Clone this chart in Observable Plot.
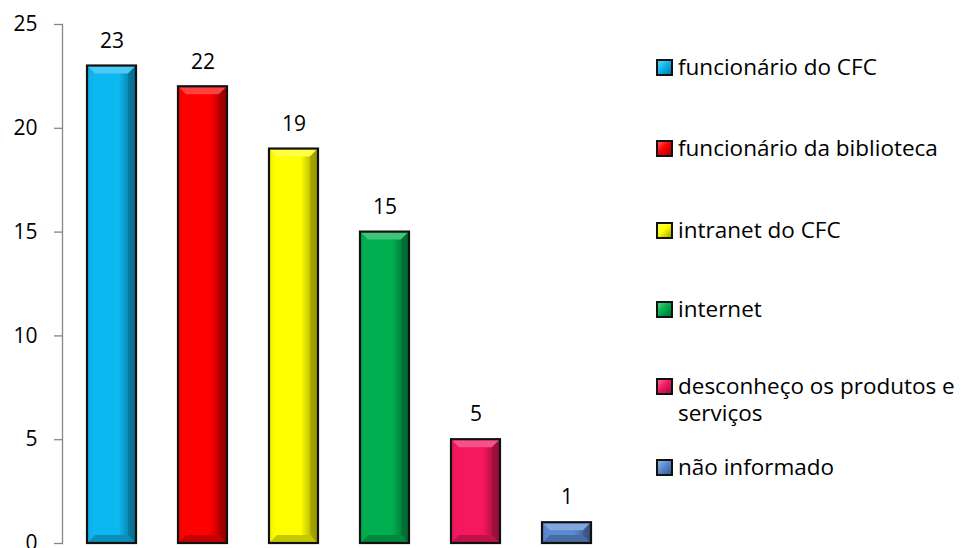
<!DOCTYPE html>
<html>
<head>
<meta charset="utf-8">
<script src="https://cdn.jsdelivr.net/npm/d3@7"></script>
<script src="https://cdn.jsdelivr.net/npm/@observablehq/plot@0.6"></script>
<style>
  html, body { margin: 0; padding: 0; background: #fff; }
  #wrap { position: relative; width: 964px; height: 548px; overflow: hidden; font-family: "Open Sans", "Noto Sans", sans-serif; }
  #chart svg { display: block; }
  #legend { position: absolute; left: 656px; top: 0; width: 308px; height: 548px; }
  .item { position: absolute; left: 0; font-size: 22.5px; line-height: 27px; color: #000; padding-left: 22px; white-space: nowrap; }
  .sw { position: absolute; left: 0; top: 6px; width: 13px; height: 13px; border: 2px solid #111; box-sizing: content-box; }
</style>
</head>
<body>
<div id="wrap">
  <div id="chart"></div>
  <div id="legend"></div>
</div>
<script>
// ---- data ----
const categories = [
  "funcionário do CFC",
  "funcionário da biblioteca",
  "intranet do CFC",
  "internet",
  "desconheço os produtos e serviços",
  "não informado"
];
const values = [23, 22, 19, 15, 5, 1];
const colors = ["#0DB7F0", "#FF0000", "#FFFF00", "#00B050", "#F5175F", "#5A8AD0"];
const yTicks = [0, 5, 10, 15, 20, 25];
const legendLines = [
  ["funcionário do CFC"],
  ["funcionário da biblioteca"],
  ["intranet do CFC"],
  ["internet"],
  ["desconheço os produtos e", "serviços"],
  ["não informado"]
];

const data = categories.map((c, i) => ({category: c, value: values[i], color: colors[i], idx: i}));

function shade(c, k) {
  return k >= 0 ? d3.interpolateRgb(c, "#ffffff")(k) : d3.interpolateRgb(c, "#000000")(-k);
}

// gradient defs mark
const defs = () => {
  const g = d3.create("svg:defs");
  colors.forEach((c, i) => {
    const lg = g.append("linearGradient").attr("id", "g" + i).attr("x1", 0).attr("x2", 1).attr("y1", 0).attr("y2", 0);
    lg.append("stop").attr("offset", 0).attr("stop-color", shade(c, -0.05));
    lg.append("stop").attr("offset", 0.15).attr("stop-color", c);
    lg.append("stop").attr("offset", 0.65).attr("stop-color", c);
    lg.append("stop").attr("offset", 1).attr("stop-color", shade(c, -0.45));
  });
  return g.node();
};

const bevel = 8;
function bevelRender(index, scales, values, dimensions, context, next) {
  const g = next(index, scales, values, dimensions, context);
  const bw = scales.x && scales.x.bandwidth ? scales.x.bandwidth() : 49;
  const sel = d3.select(g);
  for (const i of index) {
    const x = scales.x(data[i].category);
    const yTop = Math.min(scales.y(data[i].value), scales.y(0));
    const yBot = Math.max(scales.y(data[i].value), scales.y(0));
    const w = bw, h = yBot - yTop;
    const b = Math.min(bevel, h / 2);
    const c = data[i].color;
    sel.append("polygon")
      .attr("points", [[x, yTop], [x + w, yTop], [x + w - b, yTop + b], [x + b, yTop + b]].join(" "))
      .attr("fill", shade(c, 0.25));
    sel.append("polygon")
      .attr("points", [[x, yBot], [x + w, yBot], [x + w - b, yBot - b], [x + b, yBot - b]].join(" "))
      .attr("fill", shade(c, -0.22));
    sel.append("polygon")
      .attr("points", [[x + w, yTop], [x + w, yBot], [x + w - b, yBot - b], [x + w - b, yTop + b]].join(" "))
      .attr("fill", shade(c, -0.4)).attr("fill-opacity", 0.55);
    sel.append("rect")
      .attr("x", x).attr("y", yTop).attr("width", w).attr("height", h)
      .attr("fill", "none").attr("stroke", "#111").attr("stroke-width", 2.2);
  }
  return g;
}

const chart = Plot.plot({
  width: 964,
  height: 548,
  marginLeft: 62,
  marginRight: 349,
  marginTop: 24,
  marginBottom: 5,
  style: {fontFamily: '"Open Sans", "Noto Sans", sans-serif', background: "#fff", overflow: "visible"},
  x: {domain: categories, paddingInner: 0.467, paddingOuter: 0.239, axis: null},
  y: {domain: [0, 25], axis: null},
  marks: [
    defs,
    Plot.frame({anchor: "left", stroke: "#868686", strokeWidth: 1.3}),
    Plot.axisY({ticks: yTicks, label: null, tickSize: 8, tickPadding: 17, stroke: "#868686", strokeWidth: 1.3, fill: "#000", fontSize: 21, tickFormat: d => String(d)}),
    Plot.barY(data, {x: "category", y: "value", fill: d => "url(#g" + d.idx + ")", render: bevelRender}),
    Plot.text(data, {x: "category", y: "value", text: d => String(d.value), dy: -25, fontSize: 21, fill: "#000"})
  ]
});
document.getElementById("chart").appendChild(chart);

// legend (HTML)
const legendTops = [53, 134, 216, 295, 372, 453];
const legend = d3.select("#legend");
legendLines.forEach((lines, i) => {
  const it = legend.append("div").attr("class", "item").style("top", legendTops[i] + "px");
  const c = colors[i];
  it.append("div").attr("class", "sw")
    .style("background", `linear-gradient(135deg, ${shade(c, 0.35)} 0%, ${c} 45%, ${shade(c, -0.35)} 100%)`);
  it.append("div").html(lines.join("<br>"));
});
</script>
</body>
</html>
